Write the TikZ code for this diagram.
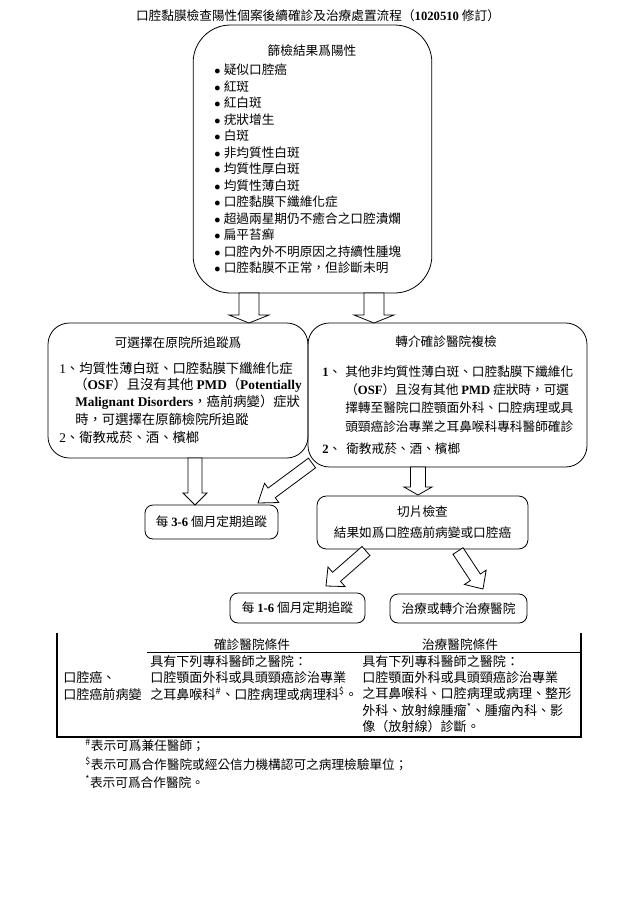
\documentclass[tikz,border=0pt]{standalone}
\usepackage{fontspec}
\setmainfont{Noto Sans CJK TC}
\newfontfamily\tms{Liberation Serif}
\usetikzlibrary{positioning,calc}

\newcommand{\lat}[1]{{\tms\bfseries #1}}
\newcommand{\hollowarrow}[5]{%
  \coordinate (hb) at ($(#2)!#5!(#1)$);
  \draw[arr] ($(#1)!#3!90:(#2)$) -- ($(hb)!#3!90:(#2)$) -- ($(hb)!#4!90:(#2)$) -- (#2)
    -- ($(hb)!#4!-90:(#2)$) -- ($(hb)!#3!-90:(#2)$) -- ($(#1)!#3!-90:(#2)$) -- cycle;}

\begin{document}
\begin{tikzpicture}[x=0.75pt, y=-0.75pt, every node/.style={font=\fontsize{9.5}{12}\selectfont}]
            \tikzstyle{box}=[draw, line width=0.6pt, inner sep=0pt, align=center]
            \tikzstyle{txt}=[anchor=west, inner sep=0pt]
            \tikzstyle{arr}=[draw, fill=white, line width=0.6pt]
            \tikzstyle{cell}=[anchor=west, inner sep=0pt, font=\fontsize{9.8}{12}\selectfont]
            \useasboundingbox (0,0) rectangle (624,900);

            \node (title) at (318,16) {口腔黏膜檢查陽性個案後續確診及治療處置流程（\lat{1020510} 修訂）};

            \node[box, rounded corners=28pt, minimum width=179pt, minimum height=201pt] (screen) at (312.5,159) {};
            \node (screent) at (312,51) {篩檢結果爲陽性};
            \foreach \lbl [count=\i from 0] in {疑似口腔癌, 紅斑, 紅白斑, 疣狀增生, 白斑, 非均質性白斑, 均質性厚白斑, 均質性薄白斑, 口腔黏膜下纖維化症, 超過兩星期仍不癒合之口腔潰爛, 扁平苔癬, 口腔內外不明原因之持續性腫塊, 口腔黏膜不正常，但診斷未明}
                \node[txt] (b\i) at (214,{70+16.5*\i}) {$\bullet$\hspace{2.5pt}\lbl};

            \node[box, rounded corners=16pt, minimum width=195pt, minimum height=101.25pt] (stay) at (178,390.5) {};
            \node (stayt) at (178,343) {可選擇在原院所追蹤爲};
            \begin{scope}[every node/.style={txt, font=\fontsize{10}{12}\selectfont}]
                \node (s1) at (59,368) {{\tms 1}、均質性薄白斑、口腔黏膜下纖維化症};
                \node (s2) at (74,385) {（\lat{OSF}）且沒有其他 \lat{PMD}（\lat{Potentially}};
                \node (s3) at (75,402) {\lat{Malignant Disorders}，癌前病變）症狀};
                \node (s4) at (75,419) {時，可選擇在原篩檢院所追蹤};
                \node (s5) at (59,437) {{\tms 2}、衛教戒菸、酒、檳榔};
            \end{scope}

            \node[box, rounded corners=16pt, minimum width=209.25pt, minimum height=108pt] (refer) at (447.5,395) {};
            \node (refert) at (446,342) {轉介確診醫院複檢};
            \node[txt] (r1n) at (322,372) {\lat{1}、};
            \node[txt] (r1) at (345,372) {其他非均質性薄白斑、口腔黏膜下纖維化};
            \node[txt] (r2) at (345,390) {（\lat{OSF}）且沒有其他 \lat{PMD} 症狀時，可選};
            \node[txt] (r3) at (345,408) {擇轉至醫院口腔顎面外科、口腔病理或具};
            \node[txt] (r4) at (345,427) {頭頸癌診治專業之耳鼻喉科專科醫師確診};
            \node[txt] (r5n) at (322,449) {\lat{2}、};
            \node[txt] (r5) at (346,449) {衛教戒菸、酒、檳榔};

            \node[box, rounded corners=6pt, minimum width=99.75pt, minimum height=25.5pt] (follow36) at (211.5,522) {每 \lat{3-6} 個月定期追蹤};
            \node[box, rounded corners=7pt, minimum width=158.25pt, minimum height=39.75pt, font=\fontsize{9.5}{15.75}\selectfont] (biopsy) at (422.5,522.5) {切片檢查\\結果如爲口腔癌前病變或口腔癌};
            \node[box, rounded corners=6pt, minimum width=101.25pt, minimum height=22.5pt] (follow16) at (297.5,608) {每 \lat{1-6} 個月定期追蹤};
            \node[box, rounded corners=6pt, minimum width=102.75pt, minimum height=21.75pt] (treat) at (458.5,608.5) {治療或轉介治療醫院};

            \coordinate (a1s) at (249,293); \coordinate (a1e) at (249,323);
            \coordinate (a2s) at (374,293); \coordinate (a2e) at (374,323);
            \coordinate (a3s) at (195,458); \coordinate (a3e) at (195,505);
            \coordinate (a4s) at (312,463); \coordinate (a4e) at (258,503);
            \coordinate (a5s) at (418,467); \coordinate (a5e) at (418,495);
            \coordinate (a6s) at (366,551); \coordinate (a6e) at (326,586);
            \coordinate (a7s) at (458,551); \coordinate (a7e) at (483,589);
            \hollowarrow{a1s}{a1e}{7.5pt}{15pt}{6pt}
            \hollowarrow{a2s}{a2e}{7.5pt}{15pt}{6pt}
            \hollowarrow{a3s}{a3e}{5.25pt}{9pt}{9pt}
            \hollowarrow{a4s}{a4e}{4.5pt}{9pt}{12.75pt}
            \hollowarrow{a5s}{a5e}{5.6pt}{10.5pt}{6pt}
            \hollowarrow{a6s}{a6e}{4.5pt}{9.75pt}{10.5pt}
            \hollowarrow{a7s}{a7e}{4.5pt}{9.75pt}{10.5pt}

            \draw[line width=1.4pt] (57,633) -- (57,737) -- (581,737) -- (581,633);
            \draw[line width=0.6pt] (147,652) -- (581,652);
            \node (h1) at (252,645) {確診醫院條件};
            \node (h2) at (460,645) {治療醫院條件};
            \node[cell] (c0a) at (63,677) {口腔癌、};
            \node[cell] (c0b) at (63,695) {口腔癌前病變};
            \node[cell] (c1a) at (150,662) {具有下列專科醫師之醫院：};
            \node[cell] (c1b) at (150,678) {口腔顎面外科或具頭頸癌診治專業};
            \node[cell] (c1c) at (150,694) {之耳鼻喉科\textsuperscript{\#}、口腔病理或病理科\textsuperscript{\$}。};
            \node[cell] (c2a) at (362,662) {具有下列專科醫師之醫院：};
            \node[cell] (c2b) at (362,678) {口腔顎面外科或具頭頸癌診治專業};
            \node[cell] (c2c) at (362,694) {之耳鼻喉科、口腔病理或病理、整形};
            \node[cell] (c2d) at (362,710) {外科、放射線腫瘤\textsuperscript{*}、腫瘤內科、影};
            \node[cell] (c2e) at (362,727) {像（放射線）診斷。};

            \node[txt] (n1) at (85,745) {\textsuperscript{\#}表示可爲兼任醫師；};
            \node[txt] (n2) at (85,764) {\textsuperscript{\$}表示可爲合作醫院或經公信力機構認可之病理檢驗單位；};
            \node[txt] (n3) at (85,782) {\textsuperscript{*}表示可爲合作醫院。};
        \end{tikzpicture}
\end{document}
